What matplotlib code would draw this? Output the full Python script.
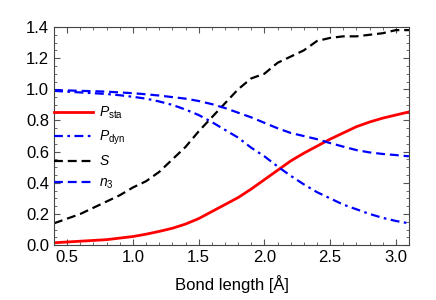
import matplotlib
matplotlib.use('Agg')
import matplotlib.pyplot as plt
from matplotlib.ticker import MultipleLocator

plt.rcParams['font.family'] = 'Liberation Sans'
plt.rcParams['mathtext.fontset'] = 'custom'
plt.rcParams['mathtext.rm'] = 'Liberation Sans'
plt.rcParams['mathtext.it'] = 'Liberation Sans:italic'

bond = [0.4, 0.5, 0.6, 0.7, 0.8, 0.9, 1.0, 1.1, 1.2, 1.3, 1.4, 1.5, 1.6, 1.7,
        1.8, 1.9, 2.0, 2.1, 2.2, 2.3, 2.4, 2.5, 2.6, 2.7, 2.8, 2.9, 3.0, 3.1]
p_sta = [0.015, 0.02, 0.025, 0.03, 0.035, 0.045, 0.055, 0.07, 0.088, 0.108, 0.135,
         0.17, 0.215, 0.26, 0.305, 0.36, 0.42, 0.48, 0.54, 0.59, 0.635, 0.68,
         0.72, 0.76, 0.79, 0.815, 0.835, 0.855]
p_dyn = [0.99, 0.985, 0.98, 0.975, 0.97, 0.962, 0.952, 0.94, 0.922, 0.90, 0.87,
         0.835, 0.79, 0.74, 0.69, 0.625, 0.57, 0.505, 0.445, 0.39, 0.34, 0.30,
         0.26, 0.23, 0.20, 0.175, 0.155, 0.14]
S = [0.14, 0.17, 0.20, 0.24, 0.28, 0.32, 0.37, 0.41, 0.47, 0.55, 0.63, 0.73,
     0.82, 0.91, 1.00, 1.07, 1.10, 1.17, 1.21, 1.25, 1.31, 1.33, 1.34, 1.34,
     1.35, 1.36, 1.38, 1.38]
n3 = [0.995, 0.993, 0.99, 0.988, 0.985, 0.98, 0.975, 0.968, 0.96, 0.95, 0.94,
      0.925, 0.905, 0.88, 0.85, 0.82, 0.785, 0.75, 0.72, 0.70, 0.68, 0.655,
      0.632, 0.61, 0.595, 0.585, 0.578, 0.57]

fig = plt.figure(figsize=(4.36, 3.0), dpi=100)
ax = fig.add_axes([0.124, 0.183, 0.814, 0.727])

ax.plot(bond, p_sta, color='red', lw=2.0, label=r'$P_{\rm sta}$')
ax.plot(bond, p_dyn, color='blue', lw=1.6, dashes=(4, 2, 1.2, 2),
        label=r'$P_{\rm dyn}$')
ax.plot(bond, S, color='black', lw=1.6, dashes=(4, 2.2), label=r'$S$')
ax.plot(bond, n3, color='blue', lw=1.6, dashes=(4, 2.2), label=r'$n_3$')

ax.set_xlim(0.4, 3.1)
ax.set_ylim(0, 1.4)
ax.xaxis.set_major_locator(MultipleLocator(0.5))
ax.xaxis.set_minor_locator(MultipleLocator(0.1))
ax.yaxis.set_major_locator(MultipleLocator(0.2))
ax.yaxis.set_minor_locator(MultipleLocator(0.05))
ax.tick_params(which='both', direction='in', top=True, right=True,
               labelsize=12, color='#555555')
ax.tick_params(which='major', length=4.5)
ax.tick_params(which='minor', length=2.5)
for sp in ax.spines.values():
    sp.set_color('#444444')

ax.set_xlabel('Bond length [Å]', fontsize=12, labelpad=7)

ax.legend(loc='upper left', bbox_to_anchor=(0.0, 0.645), frameon=False,
          borderaxespad=0, borderpad=0, handlelength=2.8, handletextpad=0.4,
          labelspacing=0.55, fontsize=10)

fig.savefig('out.png', dpi=100)
